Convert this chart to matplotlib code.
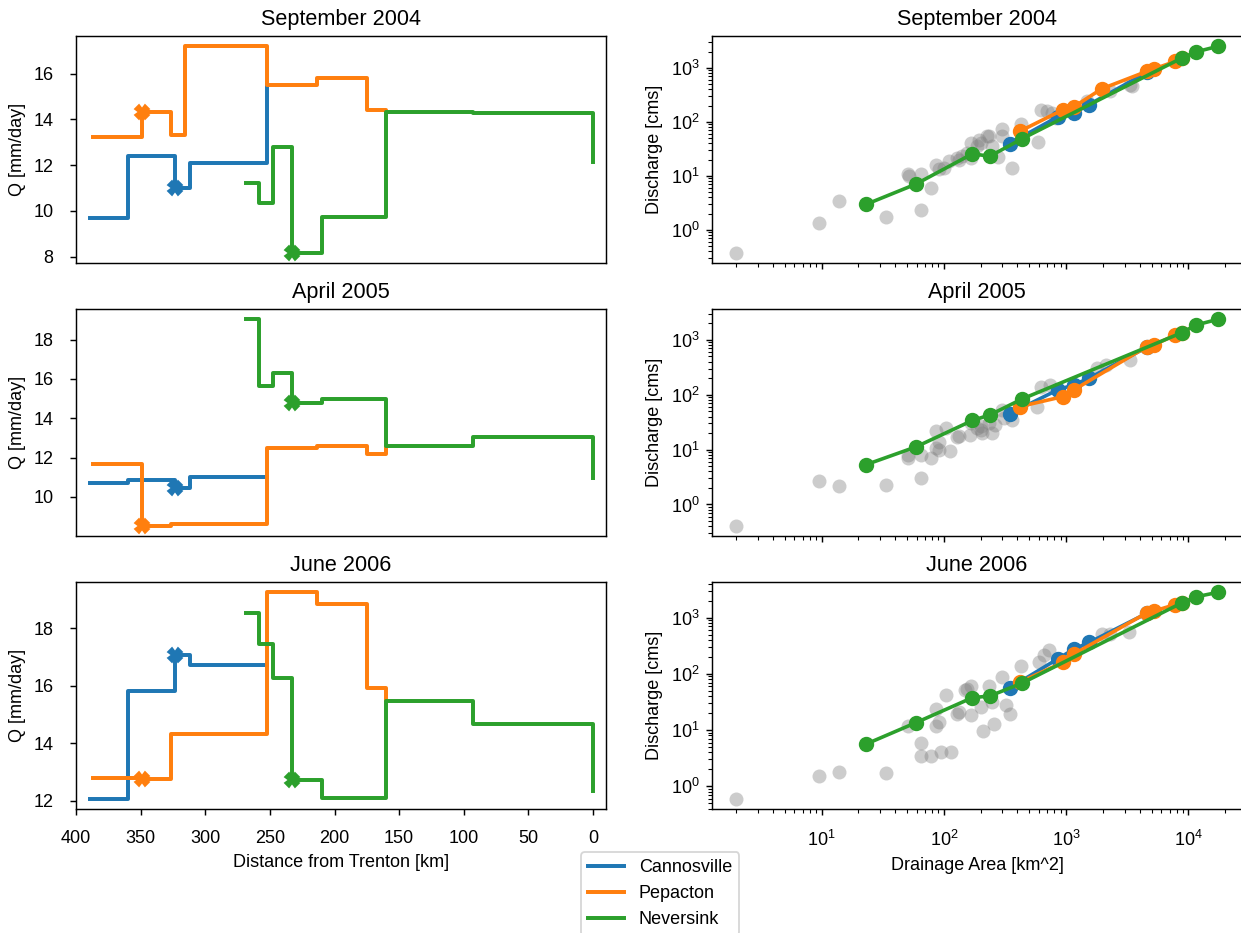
import numpy as np
import matplotlib
matplotlib.use('Agg')
import matplotlib.pyplot as plt

plt.rcParams['font.family'] = ['Liberation Sans', 'DejaVu Sans']
plt.rcParams['mathtext.fontset'] = 'custom'
plt.rcParams['mathtext.rm'] = 'Liberation Sans'
plt.rcParams['mathtext.it'] = 'Liberation Sans:italic'
plt.rcParams['mathtext.bf'] = 'Liberation Sans:bold'
plt.rcParams['font.size'] = 10
plt.rcParams['xtick.major.pad'] = 8

months = ['September 2004', 'April 2005', 'June 2006']
rivers = ['Cannosville', 'Pepacton', 'Neversink']
colors = ['tab:blue', 'tab:orange', 'tab:green']

# river profile: distance upstream of Trenton [km]
cannon_km = [389, 360, 323.5, 312, 252.5]
pepac_km = [387, 349, 326.5, 316, 252, 213.6, 174.7, 160]
never_km = [268.4, 258.6, 247.9, 233.2, 209.6, 160.1, 92.7, 0]
# index of the reservoir outlet along each profile
outlet_idx = [2, 1, 3]

# runoff along the profile [mm/day]
cannon_q = [
    [9.70, 12.39, 11.0, 12.07, 15.48],
    [10.69, 10.86, 10.45, 11.0, 11.0],
    [12.08, 15.82, 17.06, 16.73, 16.73],
]
pepac_q = [
    [13.22, 14.33, 13.31, 17.19, 15.52, 15.81, 14.40, 14.38],
    [11.68, 8.54, 8.63, 8.63, 12.49, 12.57, 12.18, 12.5],
    [12.81, 12.76, 14.32, 14.32, 19.24, 18.83, 15.93, 15.5],
]
never_q = [
    [11.21, 10.36, 12.80, 8.17, 9.75, 14.34, 14.27, 12.13],
    [19.03, 15.62, 16.29, 14.80, 14.97, 12.57, 13.05, 10.95],
    [18.51, 17.43, 16.27, 12.73, 12.09, 15.46, 14.66, 12.35],
]

# drainage area of the main-stem gauges [km^2]
cannon_area = [345, 851, 1155, 1540, 4580]
pepac_area = [417, 946, 1155, 1946, 4580, 5200, 7820, 8850]
never_area = [23, 59, 171, 238, 437, 8850, 11500, 17400]

# discharge at those gauges [cms]
cannon_dis = [
    [39.9, 124, 147, 210, 830],
    [45, 123, 152, 201, 740],
    [56, 184, 276, 362, 1200],
]
pepac_dis = [
    [67, 169, 190, 409, 865, 955, 1325, 1530],
    [61, 93, 123, np.nan, 757, 811, 1233, 1360],
    [71, 161, 225, np.nan, 1225, 1310, 1717, 1842],
]
never_dis = [
    [2.97, 7.06, 25.7, 23.2, 49, 1530, 1980, 2510],
    [5.3, 11.2, 34, 43, 84, 1360, 1875, 2380],
    [5.6, 13.5, 37.7, 40.4, 68.6, 1842, 2350, 2830],
]

# all other gauges in the basin
other_area = [
    [2.0, 9.6, 13.8, 33.6, 64.7, 79, 51, 52, 64.7, 86, 91, 110, 129, 166,
     166, 200, 226, 133, 188, 194, 234, 249, 279, 300, 300, 425, 362, 587,
     618, 700, 770, 819, 1484, 2300, 3350, 3460, 155, 100, 140],
    [2.0, 9.6, 13.8, 33.6, 64.7, 51, 51, 64.7, 79, 86, 91, 86, 105, 113,
     91, 129, 133, 165, 166, 200, 205, 200, 249, 300, 362, 310, 264, 580,
     618, 742, 1800, 2100, 3350, 234, 188],
    [2.0, 9.6, 13.8, 33.6, 64.7, 64.7, 79, 94, 115, 51, 86, 86, 91, 105,
     129, 133, 150, 155, 166, 166, 200, 210, 234, 249, 257, 300, 320, 350,
     425, 605, 660, 727, 1965, 2300, 3260],
]
other_dis = [
    [0.38, 1.36, 3.5, 1.76, 2.33, 5.9, 10.7, 10.2, 11.1, 16.3, 13.2, 18.8,
     21.7, 41, 21.7, 41, 54, 20, 35.6, 47, 56, 35.6, 22.6, 74, 54, 93, 14.2,
     42, 164, 160, 147, 119, 249, 369, 491, 460, 27, 14, 23],
    [0.41, 2.65, 2.15, 2.3, 3.1, 6.9, 7.9, 8.1, 7.1, 10.7, 9.7, 21.5, 25,
     9.6, 14, 17, 17.5, 18.7, 30.5, 26.5, 20, 23, 20, 53, 35, 37.7, 28.5,
     61, 138, 151, 305, 350, 433, 30, 25],
    [0.6, 1.5, 1.8, 1.7, 6.0, 3.4, 3.5, 4.0, 4.0, 12, 24, 12, 14, 42, 19.7,
     21, 52, 54, 60, 18.4, 26, 9.6, 60, 32, 13, 87, 27.5, 19.7, 137, 165,
     216, 268, 508, 508, 557],
]

fig = plt.figure(figsize=(1241 / 130, 933 / 130), dpi=130)

row_bottom = [0.7181, 0.4255, 0.1329]
w, h = 0.4271, 0.2433
left_x, right_x = 0.0612, 0.5737

handles = []
for i, month in enumerate(months):
    # runoff profile
    axl = fig.add_axes([left_x, row_bottom[i], w, h])
    profiles = [(cannon_km, cannon_q[i]), (pepac_km, pepac_q[i]), (never_km, never_q[i])]
    for j, (km, q) in enumerate(profiles):
        line, = axl.step(km, q, where='post', color=colors[j], lw=2.2, label=rivers[j])
        k = outlet_idx[j]
        axl.plot(km[k], q[k], 'X', color=colors[j], ms=7.5)
        if i == 0:
            handles.append(line)
    axl.set_xlim(400, -10)
    axl.tick_params(axis='y', pad=9)
    axl.set_ylabel('Q [mm/day]')
    axl.set_title(month, fontsize=12)
    if i < 2:
        axl.tick_params(bottom=False, labelbottom=False)
    else:
        axl.set_xlabel('Distance from Trenton [km]')

    # discharge vs drainage area
    axr = fig.add_axes([right_x, row_bottom[i], w, h])
    axr.scatter(other_area[i], other_dis[i], s=60, color='grey', alpha=0.4, lw=0)
    mains = [(cannon_area, cannon_dis[i]), (pepac_area, pepac_dis[i]), (never_area, never_dis[i])]
    for j, (area, dis) in enumerate(mains):
        area = np.array(area, dtype=float)
        dis = np.array(dis, dtype=float)
        ok = ~np.isnan(dis)
        axr.plot(area[ok], dis[ok], 'o-', color=colors[j], ms=7.5, lw=2)
    axr.set_xscale('log')
    axr.set_yscale('log')
    axr.set_ylabel('Discharge [cms]')
    axr.set_title(month, fontsize=12)
    if i < 2:
        axr.tick_params(which='both', labelbottom=False)
    else:
        axr.set_xlabel('Drainage Area [km^2]')

fig.legend(handles, rivers, loc='upper left',
           bbox_to_anchor=(572 / 1241, 1 - 843 / 933), fontsize=10)

fig.savefig('out.png', dpi=130)
